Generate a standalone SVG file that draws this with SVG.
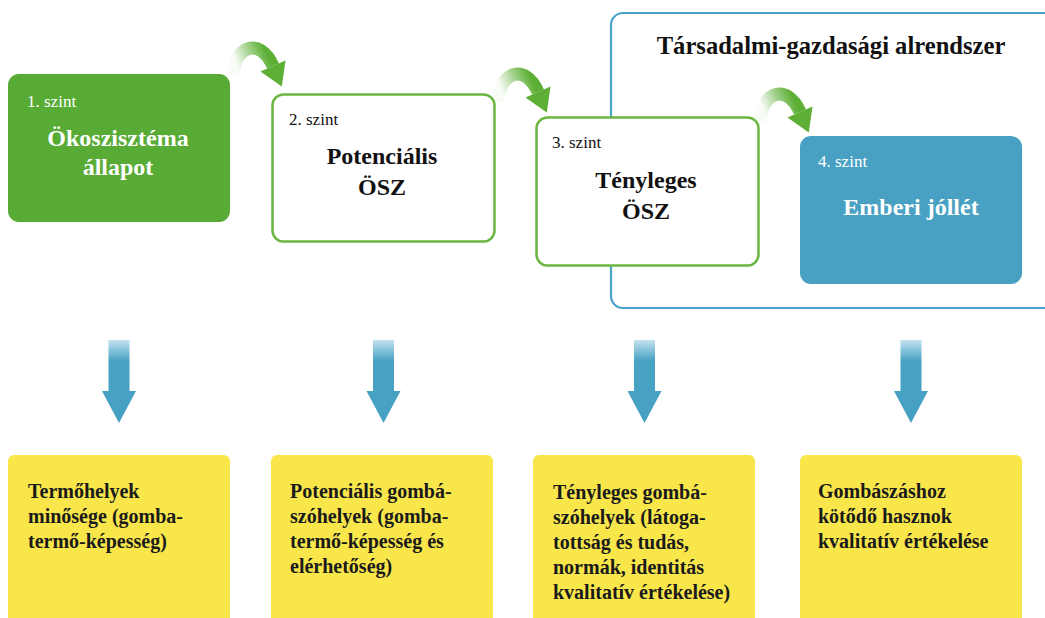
<svg xmlns="http://www.w3.org/2000/svg" width="1045" height="618" viewBox="0 0 1045 618">
<style>
.serif{font-family:"Liberation Serif","Times New Roman",serif}
.lvl{font-size:17px}
.ttl{font-size:24px;font-weight:bold;text-anchor:middle}
.yt{font-size:20px;font-weight:bold;fill:#1a1a1a}
.wt{fill:#ffffff}
.bk{fill:#111111}
.ybox{fill:#f8e64b}
.obox{fill:#ffffff;stroke:#6bb541;stroke-width:2.5}
</style>
<defs>
<linearGradient id="cg" x1="0" y1="0.3" x2="1" y2="0">
<stop offset="0" stop-color="#5cae34" stop-opacity="0.04"/>
<stop offset="0.45" stop-color="#5cae34" stop-opacity="0.6"/>
<stop offset="0.8" stop-color="#5cae34" stop-opacity="1"/>
</linearGradient>
<linearGradient id="dg" x1="0" y1="340" x2="0" y2="423" gradientUnits="userSpaceOnUse">
<stop offset="0" stop-color="#c4e2ee"/>
<stop offset="0.25" stop-color="#48a2c4"/>
<stop offset="1" stop-color="#46a0c2"/>
</linearGradient>
<g id="curl">
<path d="M233.5,76 C233,47 259.8,35.6 273,66" fill="none" stroke="url(#cg)" stroke-width="13"/>
<polygon points="260.5,71.5 285.5,60.5 281.8,86.5" fill="#5cae34"/>
</g>
<path id="down" d="M-10.5,340 H10.5 V391 H17 L0,423 L-17,391 H-10.5 Z" fill="url(#dg)"/>
</defs>

<g id="subsystem">
<rect x="611" y="13" width="460" height="295" rx="12" fill="#ffffff" stroke="#4aa3c8" stroke-width="2.2"/>
<text class="serif ttl bk" x="831" y="54" style="font-size:24.6px">Társadalmi-gazdasági alrendszer</text>
</g>

<g id="connectors">
<use href="#curl"/>
<use href="#curl" transform="translate(265,26)"/>
<use href="#curl" transform="translate(527,46)"/>
<use href="#down" transform="translate(119,0)"/>
<use href="#down" transform="translate(383.5,0)"/>
<use href="#down" transform="translate(644.5,0)"/>
<use href="#down" transform="translate(911,0)"/>
</g>

<g id="level1">
<rect x="8" y="74" width="222" height="148" rx="11" fill="#58ab35"/>
<text class="serif lvl wt" x="27" y="107">1. szint</text>
<text class="serif ttl wt" x="118" y="146">Ökoszisztéma</text>
<text class="serif ttl wt" x="118" y="175">állapot</text>
</g>

<g id="level2">
<rect x="272.5" y="94.5" width="222" height="147" rx="11" class="obox"/>
<text class="serif lvl bk" x="289" y="125">2. szint</text>
<text class="serif ttl bk" x="382" y="164">Potenciális</text>
<text class="serif ttl bk" x="382" y="195">ÖSZ</text>
</g>

<g id="level3">
<rect x="536.5" y="117.5" width="222" height="148" rx="11" class="obox"/>
<text class="serif lvl bk" x="552" y="148">3. szint</text>
<text class="serif ttl bk" x="646" y="188">Tényleges</text>
<text class="serif ttl bk" x="646" y="219">ÖSZ</text>
</g>

<g id="level4">
<rect x="800" y="136" width="222" height="148" rx="11" fill="#48a0c2"/>
<text class="serif lvl wt" x="818" y="167">4. szint</text>
<text class="serif ttl wt" x="911" y="215">Emberi jóllét</text>
</g>

<g id="desc1">
<rect x="8" y="455" width="222" height="180" rx="6" class="ybox"/>
<text class="serif yt" x="28" y="498">Termőhelyek</text>
<text class="serif yt" x="28" y="523">minősége (gomba-</text>
<text class="serif yt" x="28" y="548">termő-képesség)</text>
</g>

<g id="desc2">
<rect x="271" y="455" width="222" height="180" rx="6" class="ybox"/>
<text class="serif yt" x="290" y="498">Potenciális gombá-</text>
<text class="serif yt" x="290" y="523">szóhelyek (gomba-</text>
<text class="serif yt" x="290" y="548">termő-képesség és</text>
<text class="serif yt" x="290" y="573">elérhetőség)</text>
</g>

<g id="desc3">
<rect x="533" y="455" width="222" height="180" rx="6" class="ybox"/>
<text class="serif yt" x="553" y="499">Tényleges gombá-</text>
<text class="serif yt" x="553" y="524">szóhelyek (látoga-</text>
<text class="serif yt" x="553" y="549">tottság és tudás,</text>
<text class="serif yt" x="553" y="574">normák, identitás</text>
<text class="serif yt" x="553" y="599">kvalitatív értékelése)</text>
</g>

<g id="desc4">
<rect x="800" y="455" width="222" height="180" rx="6" class="ybox"/>
<text class="serif yt" x="818" y="498">Gombászáshoz</text>
<text class="serif yt" x="818" y="523">kötődő hasznok</text>
<text class="serif yt" x="818" y="548">kvalitatív értékelése</text>
</g>
</svg>
